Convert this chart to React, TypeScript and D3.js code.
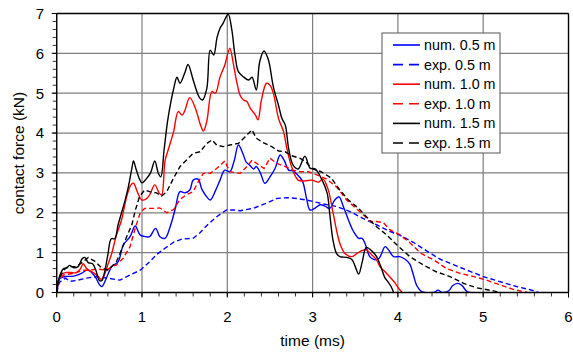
import React from "react";
import * as d3 from "d3";

const xTicks = [0, 1, 2, 3, 4, 5, 6];
const yTicks = [0, 1, 2, 3, 4, 5, 6, 7];

const num05: [number, number][] = [[0,0],[0.02,0.25],[0.04,0.36],[0.1,0.4],[0.2,0.41],[0.29,0.48],[0.35,0.56],[0.38,0.55],[0.45,0.4],[0.5,0.2],[0.53,0.15],[0.59,0.4],[0.645,0.65],[0.72,0.77],[0.78,1.19],[0.86,1.4],[0.92,1.67],[0.98,1.44],[1.05,1.4],[1.09,1.4],[1.16,1.61],[1.21,1.4],[1.27,1.36],[1.33,1.65],[1.39,2.1],[1.445,2.53],[1.5,2.5],[1.56,2.57],[1.6,2.82],[1.66,2.84],[1.7,2.6],[1.76,2.4],[1.8,2.32],[1.86,2.55],[1.915,2.82],[1.97,3.07],[2.03,3.03],[2.08,3.3],[2.13,3.7],[2.18,3.5],[2.22,3.28],[2.26,3.2],[2.31,3.1],[2.34,3.16],[2.39,2.99],[2.44,2.74],[2.5,2.9],[2.56,3.11],[2.62,3.45],[2.67,3.3],[2.72,3.07],[2.77,3.05],[2.81,2.98],[2.88,2.8],[2.93,2.35],[2.97,2.07],[3.03,2.12],[3.09,2.2],[3.15,2.16],[3.2,2.11],[3.26,2.32],[3.31,2.4],[3.36,2.16],[3.42,1.82],[3.48,1.53],[3.54,1.36],[3.58,1.36],[3.62,1.2],[3.67,0.9],[3.73,0.82],[3.78,0.86],[3.85,1.15],[3.89,1.07],[3.95,0.9],[4.02,0.9],[4.08,0.84],[4.14,0.71],[4.18,0.45],[4.22,0.18],[4.28,0.02],[4.42,0],[4.47,0.06],[4.52,0],[4.6,0.05],[4.64,0.17],[4.7,0.23],[4.75,0.18],[4.81,0.02],[4.85,0]];

const exp05: [number, number][] = [[0,0],[0.03,0.25],[0.1,0.36],[0.16,0.28],[0.23,0.3],[0.35,0.36],[0.47,0.4],[0.6,0.36],[0.74,0.31],[0.86,0.44],[0.98,0.56],[1.09,0.77],[1.17,0.95],[1.27,1.11],[1.37,1.26],[1.47,1.34],[1.6,1.36],[1.68,1.5],[1.76,1.68],[1.875,1.9],[1.99,2.07],[2.08,2.07],[2.15,2.05],[2.3,2.11],[2.46,2.24],[2.58,2.36],[2.7,2.38],[2.81,2.36],[2.93,2.32],[3.05,2.26],[3.13,2.22],[3.28,2.16],[3.44,2.03],[3.59,1.86],[3.75,1.7],[3.91,1.53],[4.02,1.44],[4.18,1.26],[4.34,1.04],[4.49,0.84],[4.65,0.7],[4.81,0.56],[5.0,0.4],[5.2,0.27],[5.39,0.15],[5.55,0.07],[5.65,0]];

const num10: [number, number][] = [[0,0],[0.03,0.35],[0.06,0.46],[0.1,0.5],[0.16,0.5],[0.23,0.5],[0.28,0.6],[0.31,0.72],[0.35,0.6],[0.43,0.5],[0.48,0.42],[0.52,0.33],[0.56,0.45],[0.6,0.7],[0.645,0.98],[0.7,1.44],[0.76,1.82],[0.82,2.4],[0.87,2.7],[0.9,2.74],[0.95,2.5],[1.0,2.32],[1.05,2.35],[1.09,2.45],[1.15,2.7],[1.2,2.5],[1.23,2.45],[1.27,3.3],[1.31,3.6],[1.37,4.03],[1.425,4.54],[1.47,4.45],[1.5,4.55],[1.56,4.89],[1.63,4.6],[1.68,4.24],[1.72,4.05],[1.76,4.3],[1.82,5.04],[1.86,5.0],[1.915,5.41],[1.97,5.7],[2.03,6.13],[2.07,5.75],[2.11,5.29],[2.15,4.95],[2.19,4.83],[2.23,4.79],[2.27,4.62],[2.33,4.45],[2.36,4.33],[2.4,4.83],[2.46,5.25],[2.5,5.2],[2.54,5.0],[2.6,4.37],[2.66,4.03],[2.7,3.6],[2.755,3.15],[2.83,2.82],[2.91,2.8],[2.99,2.82],[3.07,2.77],[3.12,2.85],[3.18,2.6],[3.24,2.0],[3.28,1.57],[3.32,1.23],[3.38,0.98],[3.46,0.9],[3.52,0.98],[3.575,1.05],[3.63,1.07],[3.69,0.95],[3.75,0.82],[3.79,0.65],[3.85,0.52],[3.9,0.4],[3.97,0.23],[4.01,0.1],[4.05,0]];

const exp10: [number, number][] = [[0,0],[0.02,0.3],[0.08,0.44],[0.2,0.48],[0.31,0.56],[0.39,0.56],[0.47,0.59],[0.59,0.56],[0.645,0.65],[0.7,0.69],[0.78,0.86],[0.86,1.15],[0.92,1.61],[0.98,2.0],[1.03,2.11],[1.13,2.11],[1.21,2.12],[1.29,2.0],[1.37,2.08],[1.445,2.34],[1.52,2.45],[1.6,2.53],[1.66,2.78],[1.72,2.99],[1.8,2.99],[1.875,3.11],[1.97,3.3],[2.03,3.03],[2.15,2.99],[2.23,3.16],[2.29,3.32],[2.37,3.2],[2.43,3.11],[2.5,3.37],[2.58,3.24],[2.68,3.16],[2.77,3.07],[2.85,3.03],[2.95,3.03],[3.05,2.95],[3.16,2.85],[3.28,2.65],[3.4,2.32],[3.52,2.09],[3.62,1.9],[3.67,1.78],[3.75,1.78],[3.83,1.75],[3.91,1.57],[4.02,1.45],[4.14,1.25],[4.26,1.0],[4.34,0.9],[4.42,0.82],[4.57,0.6],[4.73,0.48],[4.89,0.4],[5.04,0.31],[5.2,0.19],[5.35,0.08],[5.47,0.02],[5.52,0]];

const num15: [number, number][] = [[0,0],[0.02,0.3],[0.05,0.5],[0.08,0.6],[0.12,0.62],[0.15,0.68],[0.2,0.62],[0.25,0.65],[0.3,0.85],[0.33,0.88],[0.37,0.75],[0.42,0.72],[0.46,0.55],[0.5,0.3],[0.53,0.3],[0.56,0.5],[0.6,0.95],[0.64,1.35],[0.68,1.35],[0.72,1.7],[0.76,2.0],[0.8,2.3],[0.84,2.65],[0.88,3.1],[0.9,3.3],[0.93,3.1],[0.97,2.85],[1.0,2.75],[1.05,2.85],[1.1,3.0],[1.15,3.3],[1.19,3.0],[1.22,2.9],[1.26,3.6],[1.3,4.3],[1.34,4.8],[1.37,5.1],[1.41,5.4],[1.445,5.25],[1.5,5.5],[1.54,5.72],[1.6,5.33],[1.65,5.0],[1.68,4.87],[1.71,4.83],[1.76,5.12],[1.8,6.08],[1.84,5.96],[1.88,6.4],[1.915,6.63],[1.95,6.75],[2.01,6.98],[2.05,6.63],[2.09,5.96],[2.13,5.54],[2.19,5.41],[2.25,5.33],[2.29,5.4],[2.34,5.08],[2.38,5.79],[2.43,6.06],[2.48,5.85],[2.54,5.16],[2.6,4.7],[2.64,4.37],[2.68,4.2],[2.72,3.6],[2.77,3.2],[2.83,3.1],[2.91,3.42],[2.97,3.12],[3.03,3.1],[3.1,2.87],[3.17,2.5],[3.2,1.99],[3.24,1.3],[3.28,0.98],[3.32,0.9],[3.4,0.88],[3.46,0.83],[3.5,0.65],[3.54,0.46],[3.58,0.75],[3.63,1.13],[3.69,1.05],[3.75,0.9],[3.8,0.65],[3.85,0.36],[3.88,0.28],[3.92,0.15],[3.95,0]];

const exp15: [number, number][] = [[0,0],[0.02,0.3],[0.08,0.56],[0.13,0.65],[0.23,0.65],[0.31,0.77],[0.37,0.88],[0.45,0.78],[0.51,0.65],[0.59,0.56],[0.645,0.65],[0.7,0.77],[0.76,1.07],[0.82,1.4],[0.88,1.69],[0.92,2.05],[0.97,2.4],[1.03,2.57],[1.09,2.53],[1.17,2.5],[1.23,2.42],[1.29,2.53],[1.37,2.87],[1.445,3.16],[1.52,3.32],[1.6,3.49],[1.68,3.53],[1.76,3.74],[1.82,3.83],[1.875,3.7],[1.95,3.66],[2.03,3.7],[2.13,3.74],[2.21,3.91],[2.29,4.08],[2.34,3.87],[2.42,3.76],[2.52,3.66],[2.6,3.55],[2.68,3.53],[2.755,3.43],[2.85,3.37],[2.92,3.28],[3.0,3.1],[3.1,3.03],[3.22,2.87],[3.32,2.57],[3.42,2.32],[3.54,2.11],[3.63,1.9],[3.75,1.65],[3.87,1.44],[3.99,1.19],[4.14,0.9],[4.3,0.69],[4.45,0.52],[4.61,0.4],[4.77,0.23],[4.92,0.12],[5.12,0.04],[5.2,0]];

const seriesNames = ["num. 0.5 m", "exp. 0.5 m", "num. 1.0 m", "exp. 1.0 m", "num. 1.5 m", "exp. 1.5 m"];
const seriesData = [num05, exp05, num10, exp10, num15, exp15];
const seriesColors = ["#0000ff", "#0000ff", "#ff0000", "#ff0000", "#000000", "#000000"];
const seriesDashed = [false, true, false, true, false, true];

const W = 573, H = 353;
const L = 56.7, R = 568.5, T = 13.5, B = 292.5;
const font = "'Liberation Sans', Arial, sans-serif";

export default function App() {
  const x = d3.scaleLinear().domain([0, 6]).range([L, R]);
  const y = d3.scaleLinear().domain([0, 7]).range([B, T]);
  const smooth = d3.line<[number, number]>().x(d => x(d[0])).y(d => y(d[1])).curve(d3.curveCatmullRom.alpha(0.5));
  const lin = d3.line<[number, number]>().x(d => x(d[0])).y(d => y(d[1])).curve(d3.curveLinear);
  const xMinor = d3.range(0, 31).map(i => i * 0.2);
  const yMinor = d3.range(0, 36).map(i => i * 0.2);

  const legX = 382, legY = 33, legW = 118, legH = 120;
  return (
    <svg width={W} height={H} style={{ position: "absolute", left: 0, top: 0, background: "#fff" }}>
      <defs>
        <clipPath id="plotclip">
          <rect x={L} y={T - 2} width={R - L} height={B - T + 2} />
        </clipPath>
      </defs>
      <rect x={0} y={0} width={W} height={H} fill="#fff" />
      {xTicks.map(t => (
        <line key={"gx" + t} x1={x(t)} x2={x(t)} y1={T} y2={B} stroke="#7f7f7f" strokeWidth={1.2} />
      ))}
      {yTicks.map(t => (
        <line key={"gy" + t} x1={L} x2={R} y1={y(t)} y2={y(t)} stroke="#7f7f7f" strokeWidth={1.2} />
      ))}
      {xMinor.map((t, i) => (
        <line key={"mx" + i} x1={x(t)} x2={x(t)} y1={B} y2={B + 4} stroke="#333" strokeWidth={1} />
      ))}
      {yMinor.map((t, i) => (
        <line key={"my" + i} x1={L - 4} x2={L} y1={y(t)} y2={y(t)} stroke="#333" strokeWidth={1} />
      ))}
      {xTicks.map(t => (
        <line key={"tx" + t} x1={x(t)} x2={x(t)} y1={B} y2={B + 5} stroke="#000" strokeWidth={1} />
      ))}
      {yTicks.map(t => (
        <line key={"ty" + t} x1={L - 5} x2={L} y1={y(t)} y2={y(t)} stroke="#000" strokeWidth={1} />
      ))}
      <g clipPath="url(#plotclip)">
        {seriesData.map((d, i) => (
          <path
            key={"s" + i}
            d={(seriesDashed[i] ? lin(d) : smooth(d)) || ""}
            fill="none"
            stroke={seriesColors[i]}
            strokeWidth={1.4}
            strokeDasharray={seriesDashed[i] ? "5,3" : undefined}
            strokeLinejoin="round"
          />
        ))}
      </g>
      <line x1={L} x2={R} y1={T} y2={T} stroke="#000" strokeWidth={1.3} />
      <line x1={R} x2={R} y1={T} y2={B} stroke="#000" strokeWidth={1.3} />
      <line x1={L} x2={R} y1={B} y2={B} stroke="#000" strokeWidth={1.3} />
      <line x1={L} x2={L} y1={T} y2={B} stroke="#000" strokeWidth={1.3} />
      {xTicks.map(t => (
        <text key={"lx" + t} x={x(t)} y={322} textAnchor="middle" fontFamily={font} fontSize={15} fill="#000">{t}</text>
      ))}
      {yTicks.map(t => (
        <text key={"ly" + t} x={44} y={y(t) + 5.3} textAnchor="end" fontFamily={font} fontSize={15} fill="#000">{t}</text>
      ))}
      <text x={x(3)} y={346} textAnchor="middle" fontFamily={font} fontSize={15.5} fill="#000">time (ms)</text>
      <text transform={`translate(24,${(T + B) / 2}) rotate(-90)`} textAnchor="middle" fontFamily={font} fontSize={15.5} fill="#000">contact force (kN)</text>
      <rect x={legX} y={legY} width={legW} height={legH} fill="#fff" stroke="#555" strokeWidth={1} />
      {seriesNames.map((n, i) => {
        const cy = 45 + i * 19.6;
        return (
          <g key={"lg" + i}>
            <line x1={393} x2={420} y1={cy} y2={cy} stroke={seriesColors[i]} strokeWidth={1.6} strokeDasharray={seriesDashed[i] ? "10,6" : undefined} />
            <text x={424} y={cy + 5} fontFamily={font} fontSize={14.3} fill="#000">{n}</text>
          </g>
        );
      })}
    </svg>
  );
}
